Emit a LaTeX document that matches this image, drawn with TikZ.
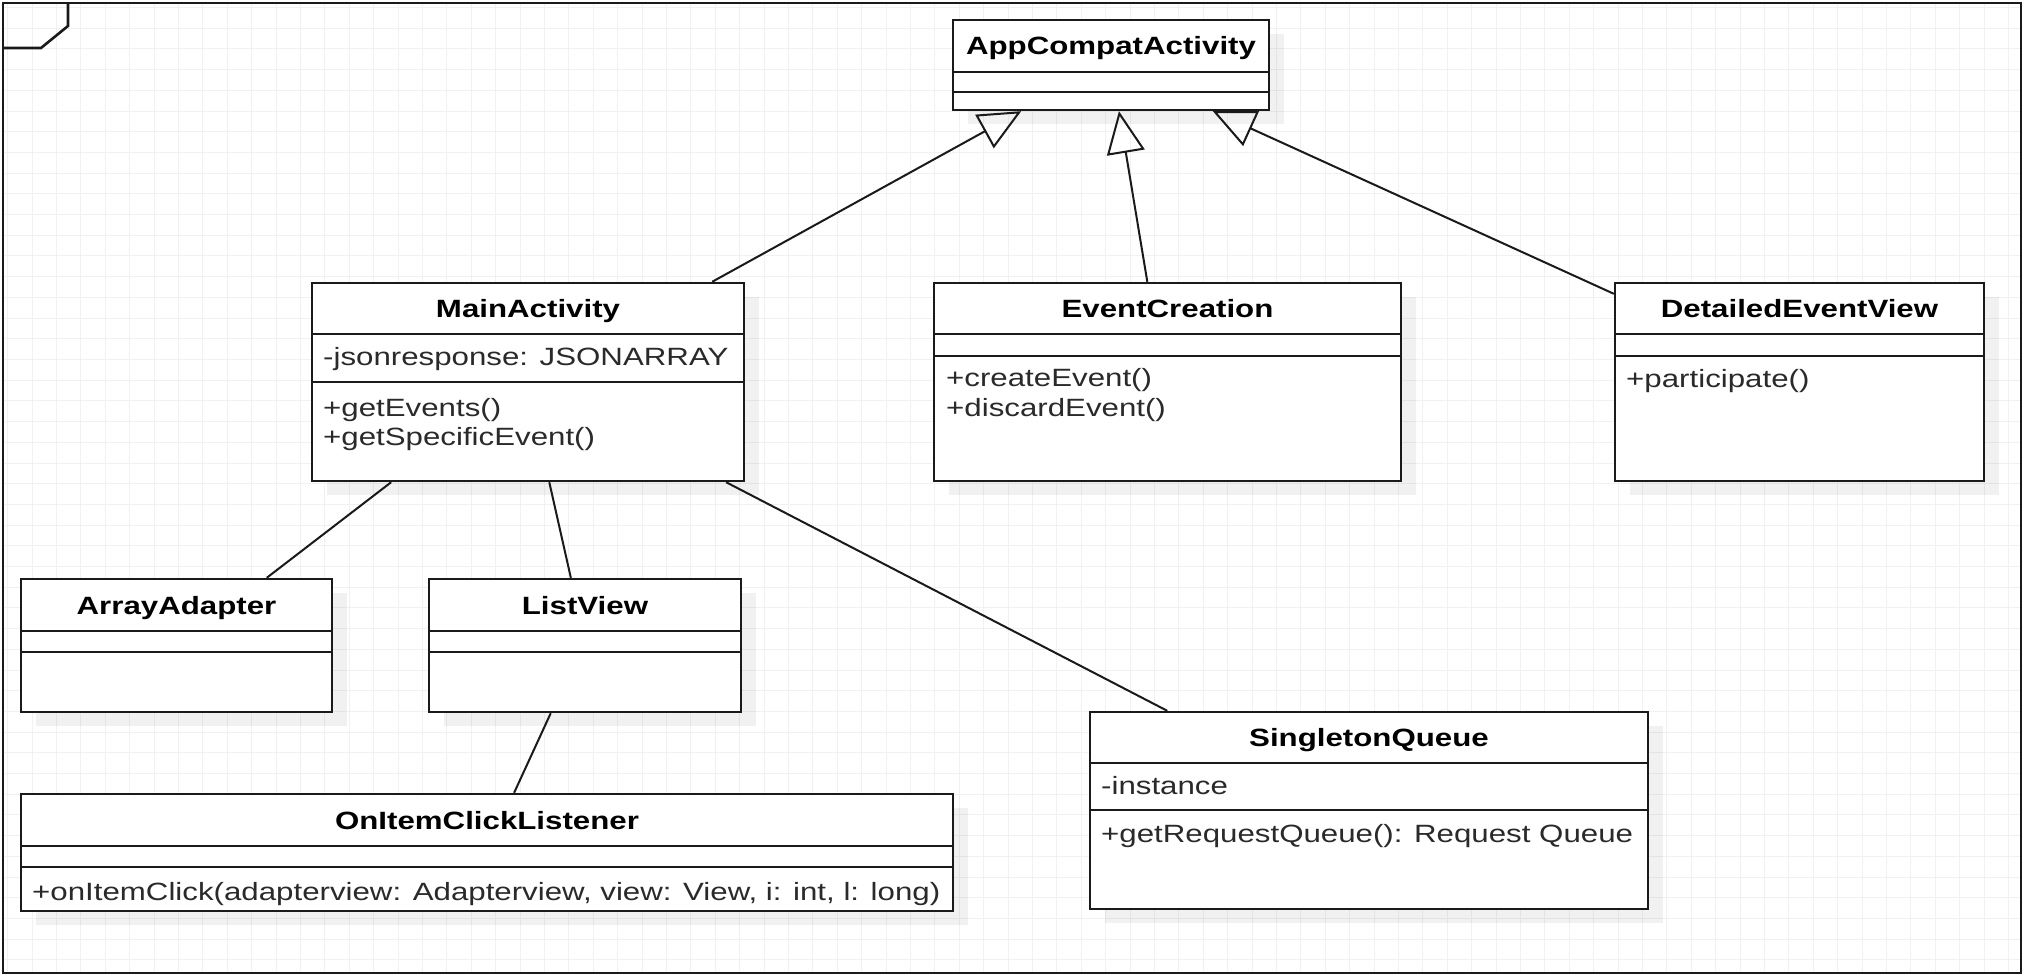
\documentclass[tikz,border=0pt]{standalone}
\usepackage{fontspec}
\setmainfont[FakeStretch=1.25]{Liberation Sans}
\usetikzlibrary{arrows.meta,fit,calc}
\definecolor{gridc}{HTML}{F1F1F1}
\definecolor{inkc}{HTML}{1A1A1A}
\definecolor{txtc}{HTML}{2A2A2A}
\tikzset{
  box/.style={draw=inkc, line width=2.4pt, fill=white, inner sep=0pt},
  boxline/.style={draw=inkc, line width=2pt},
  shadowbox/.style={fill=black, fill opacity=0.055},
  titletext/.style={anchor=base, font=\bfseries\fontsize{25}{30}\selectfont, text=black, inner sep=0pt},
  membertext/.style={anchor=base west, font=\fontsize{25}{30}\selectfont, text=txtc, inner sep=0pt},
  conn/.style={draw=inkc, line width=2pt},
  gen/.style={conn, -{Triangle[open, length=42pt, width=38pt, line width=2pt]}},
}
\newcommand\umlcls[8]{%
  \fill[shadowbox] (#2+15,#3+14) rectangle (#4+15,#5+14);
  \node[box, fit={(#2,#3) (#4,#5)}] (#1) {};
  \draw[boxline] (#2,#6) -- (#4,#6) (#2,#7) -- (#4,#7);
  \node[titletext] (#1-title) at ({(#2+#4)/2},{(#3+#6)/2+9}) {#8};
}
\begin{document}
\begin{tikzpicture}[x=1pt,y=-1pt]
\useasboundingbox (0,0) rectangle (2024,976);
\fill[white] (0,0) rectangle (2024,976);
% grid
\foreach \i in {0,...,82} \draw[gridc, line width=1pt] ({7.6+24.4*\i},3) -- ({7.6+24.4*\i},973);
\foreach \j in {0,...,46} \draw[gridc, line width=1pt] (3,{7.6+20.7*\j}) -- (2021,{7.6+20.7*\j});
% frame
\draw[inkc, line width=2.6pt] (3,3) rectangle (2021,973);
\draw[inkc, line width=2.6pt] (3,48) -- (41,48) -- (68,26) -- (68,3);
% classes
\umlcls{app}{953}{20}{1269}{110}{72}{92}{AppCompatActivity}
\umlcls{main}{312}{283}{744}{481}{334}{382}{MainActivity}
\node[membertext] (main-a1) at (323,365) {-jsonresponse: JSONARRAY};
\node[membertext] (main-m1) at (323,416) {+getEvents()};
\node[membertext] (main-m2) at (323,445) {+getSpecificEvent()};
\umlcls{evc}{934}{283}{1401}{481}{334}{356}{EventCreation}
\node[membertext] (evc-m1) at (946,386) {+createEvent()};
\node[membertext] (evc-m2) at (946,416) {+discardEvent()};
\umlcls{det}{1615}{283}{1984}{481}{334}{356}{DetailedEventView}
\node[membertext] (det-m1) at (1626,387) {+participate()};
\umlcls{arr}{21}{579}{332}{712}{631}{652}{ArrayAdapter}
\umlcls{list}{429}{579}{741}{712}{631}{652}{ListView}
\umlcls{onc}{21}{794}{953}{911}{846}{867}{OnItemClickListener}
\node[membertext] (onc-m1) at (32,900) {+onItemClick(adapterview: Adapterview, view: View, i: int, l: long)};
\umlcls{sq}{1090}{712}{1648}{909}{763}{810}{SingletonQueue}
\node[membertext] (sq-a1) at (1101,794) {-instance};
\node[membertext] (sq-m1) at (1101,842) {+getRequestQueue(): Request Queue};
% connectors
\draw[gen] ($(main.north west)!0.924!(main.north east)$) -- ($(app.south west)!0.218!(app.south east)$);
\draw[gen] ($(evc.north west)!0.457!(evc.north east)$) -- ($(app.south west)!0.525!(app.south east)$);
\draw[gen] ($(det.north west)+(0,12)$) -- ($(app.south west)!0.82!(app.south east)$);
\draw[conn] ($(main.south west)!0.185!(main.south east)$) -- ($(arr.north west)!0.788!(arr.north east)$);
\draw[conn] ($(main.south west)!0.549!(main.south east)$) -- ($(list.north west)!0.455!(list.north east)$);
\draw[conn] ($(list.south west)!0.391!(list.south east)$) -- ($(onc.north west)!0.529!(onc.north east)$);
\draw[conn] ($(main.south west)!0.956!(main.south east)$) -- ($(sq.north west)!0.14!(sq.north east)$);
\end{tikzpicture}
\end{document}
